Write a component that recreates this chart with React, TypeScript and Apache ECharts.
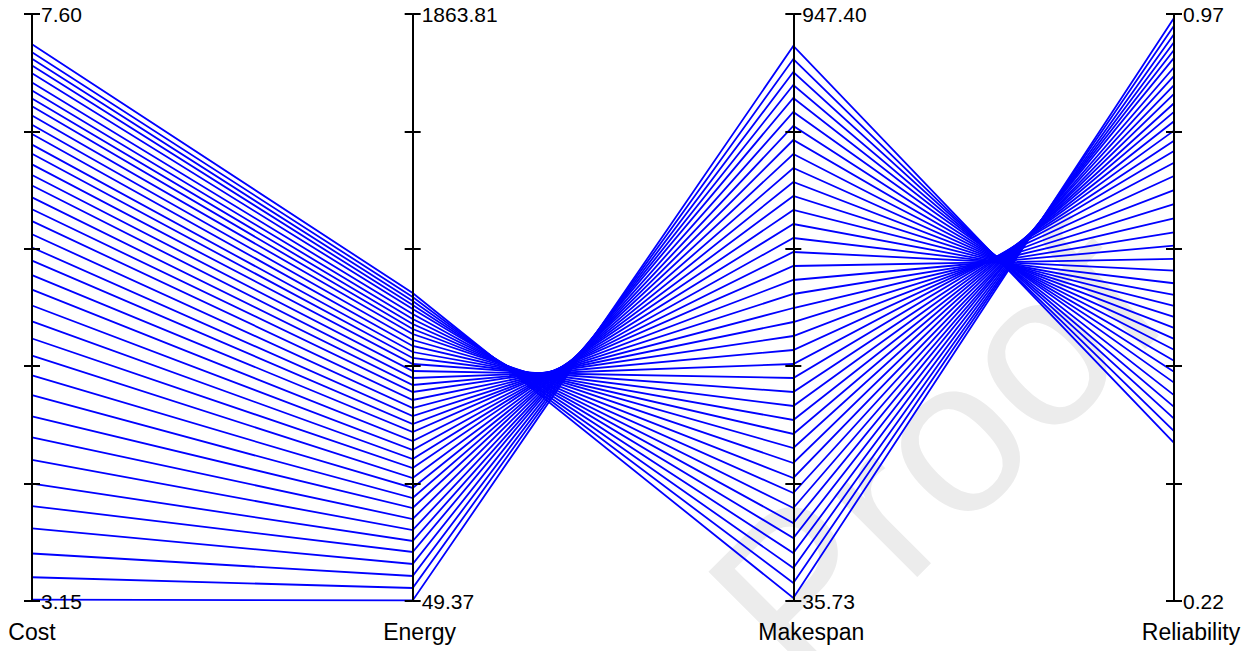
import React, { useEffect, useRef } from 'react';
import * as echarts from 'echarts';

const axisNames = ['Cost', 'Energy', 'Makespan', 'Reliability'];
const axisMin = [3.15, 49.37, 35.73, 0.22];
const axisMax = [7.6, 1863.81, 947.4, 0.97];
const axisMinLabel = ['3.15', '49.37', '35.73', '0.22'];
const axisMaxLabel = ['7.60', '1863.81', '947.40', '0.97'];
const nameShift = [0, 14, 36, 34];
const tickSplits = 5;

const cost = [
  7.37, 7.31, 7.26, 7.21, 7.15, 7.08, 7.02, 6.96, 6.9, 6.83,
  6.76, 6.69, 6.61, 6.54, 6.46, 6.38, 6.3, 6.21, 6.12, 6.03,
  5.93, 5.83, 5.73, 5.62, 5.51, 5.39, 5.27, 5.14, 5.01, 4.86,
  4.71, 4.55, 4.39, 4.22, 4.04, 3.87, 3.7, 3.51, 3.33, 3.16,
];
const energy = [
  1001.4, 989.1, 976.7, 964.3, 952.0, 936.5, 921.0, 905.6, 890.1, 874.7,
  856.1, 837.6, 819.0, 800.5, 781.9, 760.3, 738.7, 717.0, 695.4, 670.7,
  645.9, 621.2, 596.5, 571.7, 543.9, 516.1, 488.3, 460.5, 429.6, 398.7,
  367.7, 336.8, 302.8, 268.8, 234.8, 200.8, 163.7, 126.6, 89.6, 51.0,
];
const makespan = [
  40.39, 63.69, 86.98, 110.28, 133.58, 156.87, 180.17, 203.46, 226.76, 250.06,
  273.35, 295.1, 316.84, 338.58, 360.33, 382.07, 403.81, 425.56, 447.3, 469.04,
  490.79, 512.53, 534.28, 556.02, 577.76, 599.51, 621.25, 642.99, 664.74, 686.48,
  708.22, 729.97, 751.71, 773.45, 795.2, 816.94, 837.13, 857.32, 877.51, 897.7,
];
const reliability = [
  0.965, 0.955, 0.944, 0.934, 0.924, 0.914, 0.902, 0.891, 0.879, 0.868,
  0.856, 0.845, 0.833, 0.821, 0.808, 0.795, 0.78, 0.763, 0.745, 0.727,
  0.709, 0.691, 0.674, 0.657, 0.642, 0.626, 0.611, 0.597, 0.583, 0.569,
  0.555, 0.541, 0.527, 0.513, 0.499, 0.483, 0.468, 0.453, 0.437, 0.422,
];

const FONT = '"Liberation Sans", Arial, Helvetica, sans-serif';

export default function App() {
  const ref = useRef<HTMLDivElement>(null);
  useEffect(() => {
    if (!ref.current) return;
    const chart = echarts.init(ref.current, undefined, { renderer: 'svg' });
    const L = 32, R = 75, T = 14, B = 50, TICK = 8;
    const data = cost.map((c, i) => [c, energy[i], makespan[i], reliability[i]]);
    const tickValues = (i: number) => {
      const out: number[] = [];
      for (let k = 0; k <= tickSplits; k++) {
        out.push(axisMin[i] + ((axisMax[i] - axisMin[i]) * k) / tickSplits);
      }
      return out;
    };
    const tickStyle = (i: number) => ({
      show: true,
      customValues: tickValues(i),
      length: TICK,
      lineStyle: { color: '#000', width: 2 },
    });

    const realAxes = axisNames.map((n, i) => ({
      dim: i,
      parallelIndex: 0,
      type: 'value',
      min: axisMin[i],
      max: axisMax[i],
      name: n,
      nameLocation: 'start',
      nameGap: 19,
      nameTextStyle: {
        color: '#000',
        fontSize: 23,
        fontFamily: FONT,
        padding: [0, 0, 0, nameShift[i]],
      },
      axisLine: { show: true, lineStyle: { color: '#000', width: 2 } },
      axisTick: tickStyle(i),
      splitLine: { show: false },
      axisLabel: {
        show: true,
        margin: 9,
        color: '#000',
        fontSize: 21,
        fontFamily: FONT,
        customValues: [axisMin[i], axisMax[i]],
        formatter: (v: number) => {
          const eps = (axisMax[i] - axisMin[i]) * 1e-6;
          if (Math.abs(v - axisMin[i]) < eps) return axisMinLabel[i];
          if (Math.abs(v - axisMax[i]) < eps) return axisMaxLabel[i];
          return '';
        },
      },
    }));
    // second set of ticks, drawn from an offset copy of the axes, so each tick crosses its axis
    const crossAxes = axisNames.map((_, i) => ({
      dim: i,
      parallelIndex: 1,
      type: 'value',
      min: axisMin[i],
      max: axisMax[i],
      name: '',
      axisLine: { show: false },
      axisLabel: { show: false, formatter: () => '' },
      splitLine: { show: false },
      axisTick: tickStyle(i),
    }));

    chart.setOption({
      animation: false,
      backgroundColor: '#fff',
      graphic: [
        {
          type: 'text',
          x: 935,
          y: 452,
          rotation: Math.PI / 4,
          z: -10,
          silent: true,
          style: {
            text: 'Proof',
            fontSize: 220,
            fontFamily: FONT,
            fill: '#ececec',
            textAlign: 'center',
            textVerticalAlign: 'middle',
          },
        },
      ],
      parallel: [
        { left: L, right: R, top: T, bottom: B, layout: 'horizontal' },
        { left: L - TICK, right: R + TICK, top: T, bottom: B, layout: 'horizontal' },
      ],
      parallelAxis: [...realAxes, ...crossAxes],
      series: [
        {
          type: 'parallel',
          parallelIndex: 0,
          z: 5,
          lineStyle: { color: '#0000ff', width: 1.8, opacity: 1 },
          data,
        },
        {
          type: 'parallel',
          parallelIndex: 1,
          lineStyle: { opacity: 0 },
          data: [],
        },
      ],
    });
    return () => chart.dispose();
  }, []);
  return (
    <div
      ref={ref}
      style={{ position: 'absolute', left: 0, top: 0, width: 1249, height: 651, background: '#fff' }}
    />
  );
}
